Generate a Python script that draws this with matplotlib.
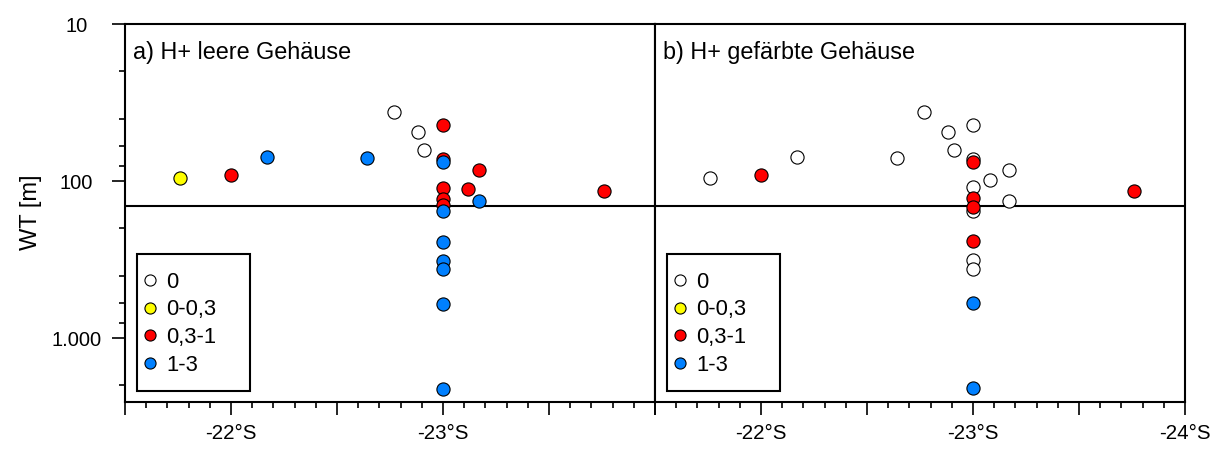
import matplotlib
matplotlib.use('Agg')  # no display
import matplotlib.pyplot as plt
from matplotlib.lines import Line2D
from matplotlib.patches import Rectangle
from matplotlib.ticker import FixedLocator, FuncFormatter, NullFormatter

plt.rcParams['font.family'] = ['Liberation Sans', 'DejaVu Sans']

# H+ classes and their colours
classes = ['0', '0-0,3', '0,3-1', '1-3']
class_colors = {'0': '#ffffff', '0-0,3': '#ffff00', '0,3-1': '#ff0000', '1-3': '#0080ff'}

# a) H+ leere Gehäuse
lat_a = [-21.76, -22.0, -22.17, -22.64, -22.77, -22.88, -22.91, -23.0, -23.0, -23.0, -23.17, -23.12,
         -23.0, -23.0, -23.0, -23.0, -23.17, -23.0, -23.0, -23.0, -23.0, -23.0, -23.76]
wt_a = [96, 92, 70, 71, 36.5, 49, 63, 44, 72, 76, 85, 113,
        110, 131, 142, 155, 134, 244, 322, 365, 605, 2100, 115]
cls_a = ['0-0,3', '0,3-1', '1-3', '1-3', '0', '0', '0', '0,3-1', '0,3-1', '1-3', '0,3-1', '0,3-1',
         '0,3-1', '0,3-1', '0,3-1', '1-3', '1-3', '1-3', '1-3', '1-3', '1-3', '1-3', '0,3-1']

# b) H+ gefärbte Gehäuse
lat_b = [-21.76, -22.0, -22.17, -22.64, -22.77, -22.88, -22.91, -23.0, -23.0, -23.0, -23.17, -23.08,
         -23.0, -23.0, -23.0, -23.0, -23.17, -23.0, -23.0, -23.0, -23.0, -23.0, -23.76]
wt_b = [96, 92, 70, 71, 36.5, 49, 63, 44, 72, 76, 85, 99,
        109, 129, 147, 155, 134, 240, 318, 363, 600, 2080, 115]
cls_b = ['0', '0,3-1', '0', '0', '0', '0', '0', '0', '0', '0,3-1', '0', '0',
         '0', '0,3-1', '0,3-1', '0', '0', '0,3-1', '0', '0', '1-3', '1-3', '0,3-1']

wt_limit = 144

y_major = [10, 100, 1000]
y_major_labels = ['10', '100', '1.000']
y_minor = [20, 40, 60, 80, 200, 400, 600, 800, 2000]
x_major = [-21.5, -22.0, -22.5, -23.0, -23.5, -24.0]
x_minor = [-21.5 - 0.1 * i for i in range(26)]

fig = plt.figure(figsize=(12.19, 4.49), dpi=100)
ax_a = fig.add_axes([125 / 1219, 47 / 449, 530 / 1219, 378 / 449])
ax_b = fig.add_axes([655 / 1219, 47 / 449, 530 / 1219, 378 / 449])


def draw_panel(ax, lat, wt, cls, title, labelled):
    ax.axhline(wt_limit, color='black', lw=1.5, zorder=1)
    # higher classes go on top
    for c in classes:
        xs = [x for x, k in zip(lat, cls) if k == c]
        ys = [y for y, k in zip(wt, cls) if k == c]
        if xs:
            ax.scatter(xs, ys, s=90, c=class_colors[c], edgecolors='black',
                       linewidths=0.8, zorder=3)

    ax.set_yscale('log')
    ax.set_ylim(2550, 10)
    ax.set_xlim(-21.5, -24.0)

    ax.xaxis.set_major_locator(FixedLocator(x_major))
    ax.xaxis.set_minor_locator(FixedLocator(x_minor))
    ax.xaxis.set_major_formatter(FuncFormatter(
        lambda v, pos: '%d°S' % round(v) if round(v) in labelled and abs(v - round(v)) < 1e-6 else ''))
    ax.tick_params(axis='x', which='major', direction='out', length=9.5, width=1.2,
                   labelsize=14.8, pad=6, top=False)
    ax.tick_params(axis='x', which='minor', direction='out', length=4.6, width=1.2, top=False)

    ax.yaxis.set_major_locator(FixedLocator(y_major))
    ax.yaxis.set_minor_locator(FixedLocator(y_minor))
    ax.yaxis.set_minor_formatter(NullFormatter())

    for s in ax.spines.values():
        s.set_linewidth(1.5)

    ax.text(0.015, 0.925, title, transform=ax.transAxes, fontsize=16.8,
            ha='left', va='center')

    # legend with a plain rectangular frame
    handles = [Line2D([], [], ls='none', marker='o', markersize=8,
                      markerfacecolor=class_colors[c], markeredgecolor='black',
                      markeredgewidth=0.8) for c in classes]
    ax.legend(handles, classes, loc='center left', bbox_to_anchor=(0.031, 0.207),
              frameon=False, fontsize=15.8, handlelength=0.8, handletextpad=0.34,
              labelspacing=0.31, borderpad=0, borderaxespad=0)
    ax.add_patch(Rectangle((0.0221, 0.0299), 0.2137, 0.3616, transform=ax.transAxes,
                           fill=False, edgecolor='black', lw=1.5, zorder=4))


draw_panel(ax_a, lat_a, wt_a, cls_a, 'a) H+ leere Gehäuse', [-22, -23])
draw_panel(ax_b, lat_b, wt_b, cls_b, 'b) H+ gefärbte Gehäuse', [-22, -23, -24])

ax_a.yaxis.set_major_formatter(FuncFormatter(lambda v, pos: y_major_labels[y_major.index(round(v))]))
ax_a.tick_params(axis='y', which='major', direction='out', length=9.4, width=1.2,
                 labelsize=14.5, pad=25.5, right=False)
ax_a.tick_params(axis='y', which='minor', direction='out', length=4.6, width=1.2, right=False)
plt.setp(ax_a.get_yticklabels(), ha='center')

ax_b.tick_params(axis='y', which='both', left=False, right=False, labelleft=False)

fig.text(31 / 1219, (449 - 212) / 449, 'WT [m]', rotation=90, fontsize=17,
         ha='center', va='center')

fig.savefig('out.png', dpi=100)
